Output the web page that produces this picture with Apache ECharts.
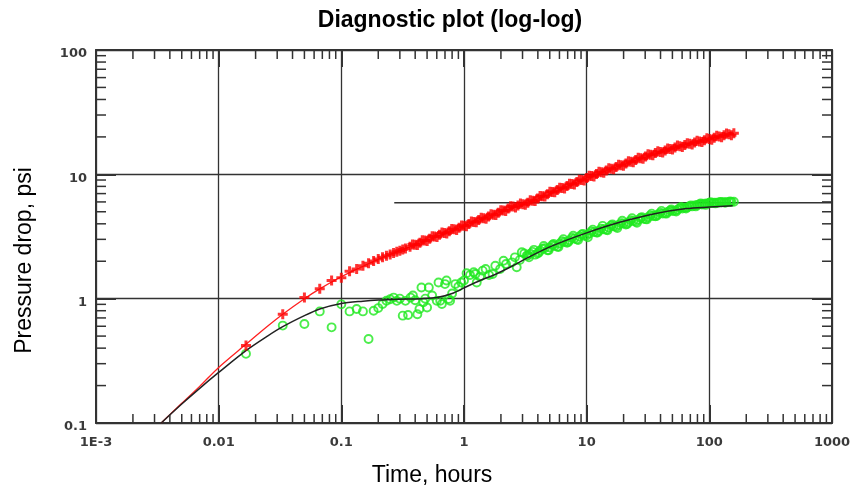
<!DOCTYPE html>
<html>
<head>
<meta charset="utf-8">
<script src="https://cdn.jsdelivr.net/npm/echarts@6/dist/echarts.min.js"></script>
<style>html,body{margin:0;padding:0;background:#fff}#c{width:850px;height:493px}</style>
</head>
<body>
<div id="c"></div>
<script>
// ---- data ----
const redTimes = [0.0167,0.0333,0.05,0.0667,0.0833,0.1,0.1167,0.1333,0.15,0.1667,0.1833,0.2,0.2167,0.2333,0.25,0.2667,0.2833,0.3,0.3167,0.3333,
  0.363,0.398,0.437,0.479,0.525,0.575,0.631,0.692,0.759,0.832,0.912,1.0,1.096,1.202,1.318,1.445,1.585,1.738,1.905,2.089,
  2.291,2.512,2.754,3.020,3.311,3.631,3.981,4.365,4.786,5.248,5.754,6.310,6.918,7.586,8.318,9.120,10,10.96,12.02,13.18,
  14.45,15.85,17.38,19.05,20.89,22.91,25.12,27.54,30.20,33.11,36.31,39.81,43.65,47.86,52.48,57.54,63.10,69.18,75.86,83.18,
  91.20,100,109.6,120.2,131.8,144.5,158.5,
  0.380,0.417,0.457,0.501,0.550,0.603,0.661,0.724,0.794,0.871,0.955,1.047,1.148,1.259,1.380,1.514,1.660,1.820,1.995,2.188,
  2.399,2.630,2.884,3.162,3.467,3.802,4.169,4.571,5.012,5.495,6.026,6.607,7.244,7.943,8.710,9.550,10.47,11.48,12.59,13.80,
  15.14,16.60,18.20,19.95,21.88,23.99,26.30,28.84,31.62,34.67,38.02,41.69,45.71,50.12,54.95,60.26,66.07,72.44,79.43,87.10,
  95.50,104.7,114.8,125.9,138.0,151.4];
const redValues = [0.42,0.75,1.02,1.20,1.40,1.47,1.66,1.73,1.84,1.93,2.01,2.08,2.15,2.21,2.27,2.33,2.38,2.43,2.48,2.53,
  2.61,2.71,2.82,2.93,3.04,3.16,3.27,3.38,3.49,3.61,3.72,3.85,3.99,4.14,4.29,4.43,4.57,4.74,4.92,5.11,
  5.30,5.50,5.62,5.75,5.92,6.14,6.38,6.65,6.93,7.21,7.48,7.76,8.05,8.36,8.67,8.99,9.33,9.68,10.05,10.40,
  10.74,11.09,11.46,11.83,12.22,12.62,13.03,13.46,13.90,14.35,14.83,15.14,15.56,16.00,16.44,16.79,17.18,17.58,17.99,18.41,
  18.84,19.28,19.72,20.18,20.61,20.99,21.38,
  2.73,2.70,2.95,2.91,3.18,3.13,3.41,3.35,3.64,3.57,3.88,3.82,4.17,4.11,4.47,4.39,4.77,4.71,5.14,5.07,
  5.54,5.42,5.83,5.69,6.18,6.10,6.68,6.62,7.25,7.16,7.81,7.71,8.41,8.30,9.05,8.93,9.74,9.62,10.48,10.31,
  11.19,10.99,11.94,11.72,12.73,12.50,13.58,13.34,14.48,14.23,15.36,14.97,16.17,15.81,17.03,16.56,17.81,17.34,18.66,18.16,
  19.54,19.01,20.45,19.89,21.32,20.65];

const greenTimes = [0.0167,0.0333,0.05,0.0667,0.0833,0.1,0.1167,0.1333,0.15,0.1667,0.1833,0.2,0.2167,0.2333,0.25,0.2667,0.2833,0.3,0.3167,0.3333,
  0.35,0.3667,0.3833,0.4,0.4167,0.4333,0.45,0.4667,0.4833,0.5,0.5167,0.55,0.6,0.62,0.64,0.66,0.70,0.72,0.75,0.77,
  0.80,0.85,0.90,0.95,1.0,1.05,1.12,1.2,1.24,1.27,1.35,1.42,1.5,1.6,1.71,1.8,1.97,2.1,2.2,2.46,
  2.6,2.69,2.85,2.96,3.1,3.25,
  3.311,3.467,3.631,3.802,3.981,4.169,4.365,4.571,4.786,5.012,5.248,5.495,5.754,6.026,6.310,6.607,6.918,7.244,7.586,7.943,
  8.318,8.710,9.120,9.550,10,10.47,10.96,11.48,12.02,12.59,13.18,13.80,14.45,15.14,15.85,16.60,17.38,18.20,19.05,19.95,
  20.89,21.88,22.91,23.99,25.12,26.30,27.54,28.84,30.20,31.62,33.11,34.67,36.31,38.02,39.81,41.69,43.65,45.71,47.86,50.12,
  52.48,54.95,57.54,60.26,63.10,66.07,69.18,72.44,75.86,79.43,83.18,87.10,91.20,95.50,100,104.7,109.6,114.8,120.2,125.9,
  131.8,138.0,144.5,151.4,158.5,
  3.388,3.715,4.074,4.467,4.898,5.370,5.888,6.457,7.079,7.762,8.511,9.333,10.23,11.22,12.30,13.49,14.79,16.22,17.78,19.50,
  21.38,23.44,25.70,28.18,30.90,33.88,37.15,40.74,44.67,48.98,53.70,58.88,64.57,70.79,77.62,85.11,93.33,102.3,112.2,123.0,
  134.9,147.9];
const greenValues = [0.36,0.607,0.626,0.79,0.588,0.90,0.79,0.826,0.79,0.474,0.80,0.84,0.906,0.963,0.99,1.02,0.96,1.0,0.73,0.96,
  0.74,1.02,1.06,0.97,0.75,0.826,1.23,0.934,1.0,0.85,1.23,1.06,0.96,1.35,0.96,0.906,1.31,1.40,0.995,0.96,
  1.10,1.31,1.25,1.35,1.40,1.60,1.55,1.63,1.58,1.35,1.50,1.68,1.73,1.55,1.58,1.84,1.73,2.02,1.90,1.96,
  2.15,1.79,2.05,2.36,2.31,2.22,
  2.22,2.30,2.38,2.26,2.31,2.44,2.52,2.55,2.45,2.58,2.70,2.66,2.62,2.78,2.90,2.86,2.82,2.95,3.08,3.05,
  3.00,3.16,3.28,3.20,3.22,3.35,3.48,3.44,3.40,3.52,3.66,3.62,3.58,3.74,3.88,3.82,3.78,3.92,4.05,4.02,
  3.95,4.12,4.25,4.22,4.15,4.30,4.45,4.40,4.36,4.52,4.68,4.62,4.60,4.75,4.90,4.84,4.85,4.98,5.12,5.06,
  5.10,5.20,5.35,5.30,5.38,5.42,5.55,5.52,5.62,5.66,5.75,5.72,5.80,5.82,5.88,5.87,5.90,5.92,5.95,5.96,
  5.97,5.98,6.00,6.01,6.02,
  2.15,2.47,2.35,2.65,2.45,2.75,2.60,3.01,2.86,3.21,2.96,3.32,3.12,3.59,3.41,3.85,3.55,3.96,3.70,4.23,
  3.99,4.44,4.07,4.53,4.34,4.83,4.62,5.08,4.83,5.22,5.02,5.46,5.30,5.63,5.52,5.83,5.68,5.98,5.84,6.00,
  5.91,6.05];

const redModelTimes = [0.0034,0.005,0.007,0.01,0.0167,0.025,0.0333,0.05,0.0667,0.1,0.15,0.2,0.3,0.5,1,2,3,5,10,20,50,100,158];
const redModelValues = [0.1,0.144,0.197,0.28,0.43,0.60,0.75,1.0,1.2,1.5,1.82,2.07,2.43,2.95,3.85,5.0,5.7,6.95,9.33,12.0,16.2,19.3,21.4];

const blackModelTimes = [0.0034,0.005,0.007,0.01,0.0167,0.025,0.0333,0.05,0.0667,0.1,0.15,0.2,0.3,0.45,0.6,0.8,1.0,1.35,1.83,2.5,3.5,5.3,10,18.6,35,65,100,155];
const blackModelValues = [0.1,0.142,0.19,0.255,0.382,0.50,0.595,0.73,0.826,0.915,0.955,0.975,0.99,1.0,1.02,1.10,1.22,1.40,1.58,1.84,2.2,2.67,3.38,4.11,4.8,5.3,5.45,5.58];

const refLineTimes = [0.27, 1000];
const refLineValues = [5.9, 5.9];

const xTickLabels = {'0.001':'1E-3','0.01':'0.01','0.1':'0.1','1':'1','10':'10','100':'100','1000':'1000'};
const minorFactors = [2,3,4,5,6,7,8,9];
const xDecadeStarts = [0.001,0.01,0.1,1,10,100];
const yDecadeStarts = [0.1,1,10];

// ---- build ----
const zip = (a,b) => a.map((v,i)=>[v,b[i]]);
const X_MIN=0.001, X_MAX=1000, Y_MIN=0.1, Y_MAX=100;
const tickData = [];
xDecadeStarts.forEach(d => minorFactors.forEach(f => { tickData.push([d*f, Y_MIN, 0]); tickData.push([d*f, Y_MAX, 1]); }));
yDecadeStarts.forEach(d => minorFactors.forEach(f => { tickData.push([X_MIN, d*f, 2]); tickData.push([X_MAX, d*f, 3]); }));

const AX = '#333';
const labelStyle = {color:'#3a3a3a', fontFamily:'DejaVu Sans', fontWeight:'bold', fontSize:13};
const plusPath = 'path://M3.5,0H6.5V3.5H10V6.5H6.5V10H3.5V6.5H0V3.5H3.5Z';

const chart = echarts.init(document.getElementById('c'), null, {renderer:'canvas'});
chart.setOption({
  animation:false,
  backgroundColor:'#fff',
  title:{text:'Diagnostic plot (log-log)', left:450, textAlign:'center', top:9, padding:0,
    textStyle:{fontFamily:'Liberation Sans', fontWeight:'bold', fontSize:23, color:'#000'}},
  grid:{left:96, right:18, top:50, bottom:70, containLabel:false, outerBoundsMode:'none'},
  xAxis:[
    {type:'log', logBase:10, min:X_MIN, max:X_MAX, position:'bottom',
     name:'Time, hours', nameLocation:'middle', nameGap:41,
     nameTextStyle:{fontFamily:'Liberation Sans', fontSize:23, color:'#000', padding:[0,64,0,0]},
     axisLine:{lineStyle:{color:AX, width:2}},
     axisTick:{inside:true, length:18, lineStyle:{color:AX, width:2}},
     axisLabel:Object.assign({margin:13, formatter:v => xTickLabels[String(+v.toPrecision(6))] || String(v)}, labelStyle),
     splitLine:{show:true, lineStyle:{color:AX, width:1.3}}},
    {type:'log', logBase:10, min:X_MIN, max:X_MAX, position:'top',
     axisLine:{lineStyle:{color:AX, width:2}},
     axisTick:{inside:true, length:17, lineStyle:{color:AX, width:2}},
     axisLabel:{show:false}, splitLine:{show:false}}
  ],
  yAxis:[
    {type:'log', logBase:10, min:Y_MIN, max:Y_MAX, position:'left',
     name:'Pressure drop, psi', nameLocation:'middle', nameGap:60,
     nameTextStyle:{fontFamily:'Liberation Sans', fontSize:23, color:'#000', padding:[0,48,0,0]},
     axisLine:{lineStyle:{color:AX, width:2}},
     axisTick:{inside:true, length:20, lineStyle:{color:AX, width:2}},
     axisLabel:Object.assign({margin:9, verticalAlign:'top', lineHeight:8}, labelStyle),
     splitLine:{show:true, lineStyle:{color:AX, width:1.3}}},
    {type:'log', logBase:10, min:Y_MIN, max:Y_MAX, position:'right',
     axisLine:{lineStyle:{color:AX, width:2}},
     axisTick:{inside:true, length:20, lineStyle:{color:AX, width:2}},
     axisLabel:{show:false}, splitLine:{show:false}}
  ],
  series:[
    {type:'custom', silent:true, z:5, xAxisIndex:0, yAxisIndex:0, encode:{x:0,y:1}, data:tickData,
     renderItem:(params, api) => {
       const p = api.coord([api.value(0), api.value(1)]);
       const dir = api.value(2);
       let x2=p[0], y2=p[1];
       if (dir===0) y2 -= 9; else if (dir===1) y2 += 9; else if (dir===2) x2 += 10; else x2 -= 10;
       return {type:'line', shape:{x1:p[0], y1:p[1], x2:x2, y2:y2}, style:{stroke:AX, lineWidth:1.5}};
     }},
    {type:'line', name:'Reference', data:zip(refLineTimes, refLineValues), showSymbol:false, silent:true,
     lineStyle:{color:'#333', width:1.5}, z:2},
    {type:'scatter', name:'Derivative', data:zip(greenTimes, greenValues), symbol:'circle', symbolSize:8,
     itemStyle:{color:'rgba(0,0,0,0)', borderColor:'#1ee81e', borderWidth:1.9}, z:3},
    {type:'line', name:'Derivative model', data:zip(blackModelTimes, blackModelValues), showSymbol:false, smooth:0.3,
     lineStyle:{color:'#222', width:1.5}, z:4},
    {type:'line', name:'Pressure model', data:zip(redModelTimes, redModelValues), showSymbol:false, smooth:0.3,
     lineStyle:{color:'#ff2020', width:1.3}, z:3},
    {type:'scatter', name:'Pressure drop', data:zip(redTimes, redValues), symbol:plusPath, symbolSize:10,
     itemStyle:{color:'#ff0000'}, z:4}
  ]
});
</script>
</body>
</html>
